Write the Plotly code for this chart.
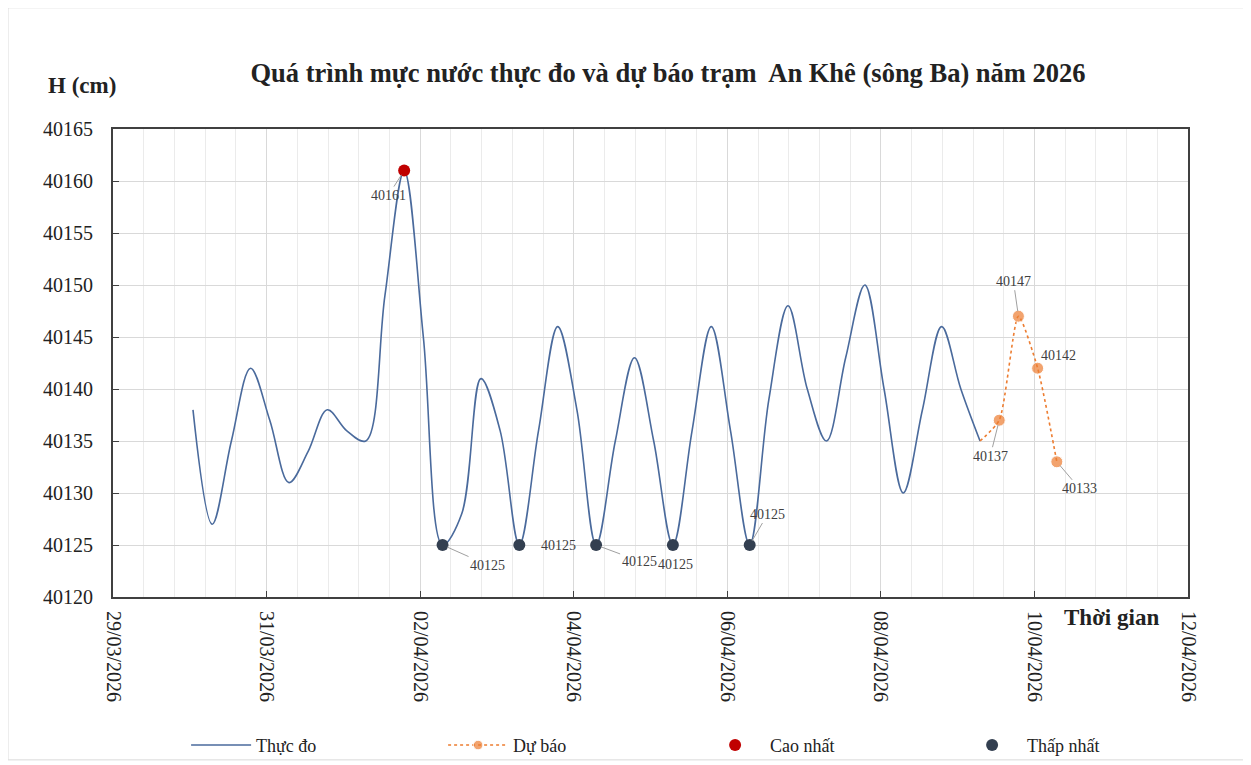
import numpy as np
import pandas as pd
import plotly.graph_objects as go

# ---------------- data ----------------
obs_start = "2026-03-30 01:00"
obs_values = [
    40138, 40127, 40135, 40142,   # 30/03 01,07,13,19
    40137, 40131, 40134, 40138,   # 31/03
    40136, 40135, 40149, 40161,   # 01/04
    40145, 40125, 40128, 40141,   # 02/04
    40136, 40125, 40136, 40146,   # 03/04
    40138, 40125, 40135, 40143,   # 04/04
    40135, 40125, 40136, 40146,   # 05/04
    40136, 40125, 40139, 40148,   # 06/04
    40140, 40135, 40143, 40150,   # 07/04
    40140, 40130, 40138, 40146,   # 08/04
    40140, 40135,                 # 09/04 01,07
]
fc_times = ["2026-04-09 07:00", "2026-04-09 13:00", "2026-04-09 19:00",
            "2026-04-10 01:00", "2026-04-10 07:00"]
fc_values = [40135, 40137, 40147, 40142, 40133]

obs_times = pd.date_range(obs_start, periods=len(obs_values), freq="6h")
obs_values = np.array(obs_values)

imax = int(np.argmax(obs_values))
imins = np.where(obs_values == obs_values.min())[0]

SERIF = "Liberation Serif, Times New Roman, serif"
BLUE = "#4A6A9C"
ORANGE = "#ED7D31"
RED = "#C00000"
DARK = "#333F50"

fig = go.Figure()
fig.add_trace(go.Scatter(x=obs_times, y=obs_values, mode="lines", name="Thực đo",
                         line=dict(color=BLUE, width=1.6, shape="spline", smoothing=1.0)))
fig.add_trace(go.Scatter(x=pd.to_datetime(fc_times), y=fc_values, mode="lines+markers", name="Dự báo",
                         line=dict(color=ORANGE, width=1.6, dash="dot", shape="spline", smoothing=0.6),
                         marker=dict(color=ORANGE, size=[0] + [12] * (len(fc_values) - 1))))
fig.add_trace(go.Scatter(x=[obs_times[imax]], y=[obs_values[imax]], mode="markers", name="Cao nhất",
                         marker=dict(color=RED, size=12)))
fig.add_trace(go.Scatter(x=obs_times[imins], y=obs_values[imins], mode="markers", name="Thấp nhất",
                         marker=dict(color=DARK, size=12)))

# ---------------- data labels ----------------
lab_font = dict(family=SERIF, size=14, color="#404040")
def leader(x, y, text, ax, ay):
    fig.add_annotation(x=x, y=y, text=text, showarrow=True, arrowhead=0, arrowwidth=1,
                       arrowcolor="#A0A0A0", ax=ax, ay=ay, standoff=5, font=lab_font)
def plain(x, y, text, dx, dy):
    fig.add_annotation(x=x, y=y, text=text, showarrow=False, xshift=dx, yshift=dy, font=lab_font)

leader(obs_times[imax], obs_values[imax], str(obs_values[imax]), -16, 25)
min_lab = [("L", 45, 20), ("P", 39, 0), ("L", 43, 16), ("P", 3, -19), ("L", 18, -31)]
for k, i in enumerate(imins):
    kind, dx, dy = min_lab[k]
    if kind == "L":
        leader(obs_times[i], obs_values[i], str(obs_values[i]), dx, dy)
    else:
        plain(obs_times[i], obs_values[i], str(obs_values[i]), dx, dy)
fct = pd.to_datetime(fc_times)
leader(fct[1], fc_values[1], str(fc_values[1]), -9, 36)
leader(fct[2], fc_values[2], str(fc_values[2]), -5, -35)
plain(fct[3], fc_values[3], str(fc_values[3]), 21, 13)
leader(fct[4], fc_values[4], str(fc_values[4]), 23, 27)

# ---------------- text ----------------
fig.add_annotation(xref="paper", yref="paper", x=-0.029, y=1.094, xanchor="center", yanchor="middle",
                   text="<b>H (cm)</b>", showarrow=False, font=dict(family=SERIF, size=23, color="#222"))
fig.add_annotation(xref="paper", yref="paper", x=0.929, y=-0.043, xanchor="center", yanchor="middle",
                   text="<b>Thời gian</b>", showarrow=False, font=dict(family=SERIF, size=23, color="#222"))

# outer frame
fig.add_shape(type="rect", xref="paper", yref="paper", x0=-0.0977, x1=1.053, y0=-0.348, y1=1.259,
              line=dict(color="#D9D9D9", width=1), layer="below")

DAY = 86400000
fig.update_layout(
    width=1243, height=757,
    margin=dict(l=105, r=63, t=121, b=168, autoexpand=False),
    paper_bgcolor="white", plot_bgcolor="white",
    title=dict(text="<b>Quá trình mực nước thực đo và dự báo trạm  An Khê (sông Ba) năm 2026</b>",
               x=0.531, xanchor="center", y=0.914, yanchor="middle",
               font=dict(family=SERIF, size=26.5, color="#222")),
    font=dict(family=SERIF, color="#222"),
    legend=dict(orientation="h", x=0.068, xanchor="left", y=-0.317, yanchor="middle",
                font=dict(family=SERIF, size=18, color="#222"), entrywidth=182,
                itemwidth=60, bgcolor="rgba(0,0,0,0)"),
    showlegend=True,
)
fig.update_xaxes(
    type="date", range=["2026-03-29", "2026-04-12"],
    tick0="2026-03-29", dtick=2 * DAY, tickformat="%d/%m/%Y", tickangle=90,
    tickfont=dict(family=SERIF, size=20, color="#222"), ticklabelstandoff=8,
    ticks="inside", ticklen=6, tickcolor="#404040",
    showgrid=True, gridcolor="#D9D9D9", gridwidth=1,
    minor=dict(tick0="2026-03-29", dtick=0.4 * DAY, showgrid=True, gridcolor="#EBEBEB", gridwidth=1),
    showline=True, linecolor="#404040", linewidth=2, mirror=True, zeroline=False,
)
fig.update_yaxes(
    range=[40120, 40165], dtick=5, tickformat="d",
    tickfont=dict(family=SERIF, size=20, color="#222"), ticklabelstandoff=14,
    ticks="inside", ticklen=6, tickcolor="#404040",
    showgrid=True, gridcolor="#D9D9D9", gridwidth=1,
    showline=True, linecolor="#404040", linewidth=2, mirror=True, zeroline=False,
)

fig.write_html("out.html")
